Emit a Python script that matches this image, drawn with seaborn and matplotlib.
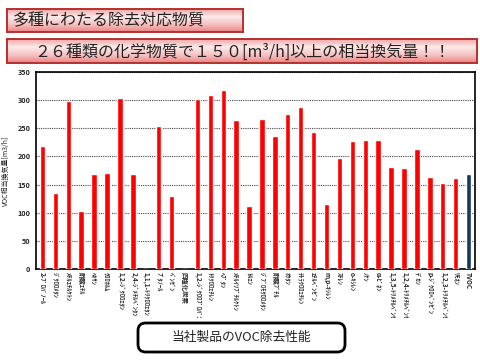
import numpy as np
import pandas as pd
import matplotlib
matplotlib.use("Agg")
import matplotlib.pyplot as plt
import seaborn as sns
from matplotlib.patches import FancyBboxPatch
from matplotlib.colors import LinearSegmentedColormap
from matplotlib.transforms import Bbox, TransformedBbox

# chemical names (half-width katakana as in the original sheet)
names = [
    "2-ﾌﾟﾛﾊﾟﾉｰﾙ", "ｼﾞｸﾛﾛﾒﾀﾝ", "ﾒﾁﾙｴﾁﾙｹﾄﾝ", "酢酸ｴﾁﾙ", "ﾍｷｻﾝ", "ｸﾛﾛﾎﾙﾑ",
    "1,2-ｼﾞｸﾛﾛｴﾀﾝ", "2,4-ｼﾞﾒﾁﾙﾍﾟﾝﾀﾝ", "1,1,1-ﾄﾘｸﾛﾛｴﾀﾝ", "ﾌﾞﾀﾉｰﾙ", "ﾍﾞﾝｾﾞﾝ",
    "四塩化炭素", "1,2-ｼﾞｸﾛﾛﾌﾟﾛﾊﾟﾝ", "ﾄﾘｸﾛﾛｴﾁﾚﾝ", "ﾍﾌﾟﾀﾝ", "ﾒﾁﾙｲｿﾌﾞﾁﾙｹﾄﾝ",
    "ﾄﾙｴﾝ", "ｼﾞﾌﾞﾛﾓｸﾛﾛﾒﾀﾝ", "酢酸ﾌﾞﾁﾙ", "ｵｸﾀﾝ", "ﾃﾄﾗｸﾛﾛｴﾁﾚﾝ", "ｴﾁﾙﾍﾞﾝｾﾞﾝ",
    "m,p-ｷｼﾚﾝ", "ｽﾁﾚﾝ", "o-ｷｼﾚﾝ", "ﾉﾅﾝ", "α-ﾋﾟﾈﾝ", "1,3,5-ﾄﾘﾒﾁﾙﾍﾞﾝｾﾞﾝ",
    "1,2,4-ﾄﾘﾒﾁﾙﾍﾞﾝｾﾞﾝ", "ﾃﾞｶﾝ", "p-ｼﾞｸﾛﾛﾍﾞﾝｾﾞﾝ", "1,2,3-ﾄﾘﾒﾁﾙﾍﾞﾝｾﾞﾝ",
    "ﾘﾓﾈﾝ", "TVOC",
]
# equivalent ventilation [m3/h]
values = [218, 135, 299, 103, 169, 171, 304, 168, 0, 254, 130, 0, 302, 310,
          318, 265, 112, 266, 236, 275, 287, 243, 115, 198, 228, 229, 230,
          182, 179, 214, 163, 153, 161, 169]
bar_colors = ["#FF0000"] * 33 + ["#17375E"]

title1 = "多種にわたる除去対応物質"
title2 = "２６種類の化学物質で１５０[m³/h]以上の相当換気量！！"
footer = "当社製品のVOC除去性能"
ylabel = "VOC相当換気量[m3/h]"

sns.set_style("white")
plt.rcParams["font.family"] = ["Noto Sans CJK JP", "DejaVu Sans"]

W, H = 480, 360
fig = plt.figure(figsize=(4.8, 3.6), dpi=100)


def fx(px):
    return px / W


def fy(px):
    return 1 - px / H


# pink gradient header boxes
pink = LinearSegmentedColormap.from_list("pink", ["#F2A8A8", "#FCEAEA", "#F6C2C2", "#EC8484"])
grad = np.linspace(0, 1, 64).reshape(-1, 1)
for (x0, y0, x1, y1, txt, ha) in [(7, 9, 243, 32, title1, "left"),
                                   (7, 39, 477, 63, title2, "center")]:
    bax = fig.add_axes([fx(x0), fy(y1), fx(x1 - x0), (y1 - y0) / H])
    bax.imshow(grad, aspect="auto", cmap=pink, extent=[0, 1, 0, 1], origin="upper")
    bax.set_xticks([])
    bax.set_yticks([])
    for s in bax.spines.values():
        s.set_color("#B5302E")
        s.set_linewidth(1.4)
    tx = 0.025 if ha == "left" else 0.5
    bax.text(tx, 0.47, txt, ha=ha, va="center", fontsize=11.5, color="#222222",
             transform=bax.transAxes)

# chart
ax = fig.add_axes([fx(36), fy(269), fx(439), 197 / H])
df = pd.DataFrame({"name": names, "value": values})
sns.barplot(data=df, x="name", y="value", hue="name", palette=bar_colors,
            width=0.42, legend=False, saturation=1, ax=ax, zorder=3)
ax.set_ylim(0, 350)
ax.set_yticks(range(0, 351, 50))
ax.set_xlim(-0.5, len(names) - 0.5)
ax.yaxis.grid(True, color="#444444", linestyle=(0, (1, 1)), linewidth=0.8, zorder=0)
ax.xaxis.grid(False)
for s in ax.spines.values():
    s.set_visible(True)
    s.set_color("black")
    s.set_linewidth(1.2)
ax.set_xlabel("")
ax.set_ylabel(ylabel, fontsize=5, labelpad=5)
ax.tick_params(axis="y", labelsize=5.2, length=0, pad=4)
ax.tick_params(axis="x", length=0, pad=2.5)
ax.set_xticks(range(len(names)))
ax.set_xticklabels(names, rotation=-90, fontsize=4.6, ha="center", va="top",
                   fontweight="bold")
for t in ax.get_yticklabels():
    t.set_fontweight("bold")

clip = TransformedBbox(Bbox([[0, fy(318)], [1, 1]]), fig.transFigure)
for t in ax.get_xticklabels():
    t.set_clip_box(clip)
    t.set_clip_on(True)

# footer rounded box
box = FancyBboxPatch((fx(138), fy(352)), fx(207), 29 / H,
                     boxstyle="round,pad=0,rounding_size=0.016",
                     mutation_aspect=W / H, transform=fig.transFigure,
                     facecolor="white", edgecolor="black", linewidth=2, zorder=5)
fig.patches.append(box)
fig.text(fx(241), fy(337.5), footer, ha="center", va="center", fontsize=9.2,
         color="#222222", zorder=6)

fig.savefig("out.png", dpi=100)
